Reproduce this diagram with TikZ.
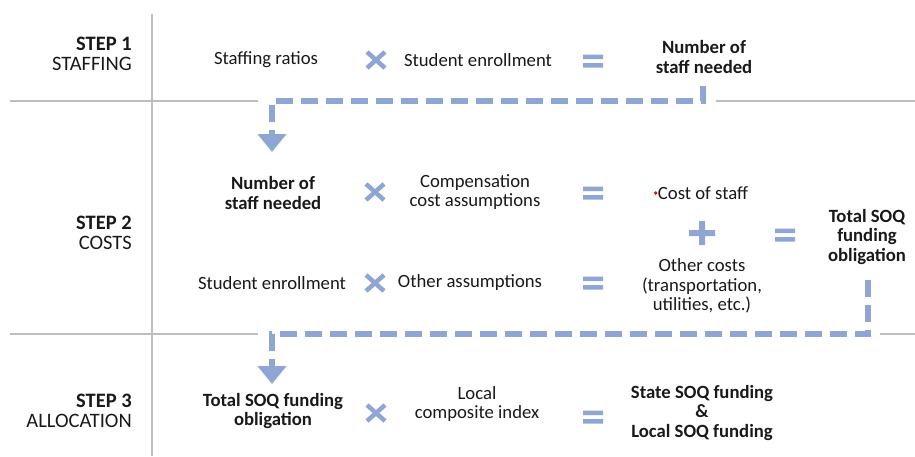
\documentclass[tikz,border=0pt]{standalone}
\usepackage{fontspec}
\setmainfont{Carlito}
\usetikzlibrary{arrows.meta}
\definecolor{flowblue}{RGB}{143,166,212}
\definecolor{rulegray}{RGB}{190,190,190}
\definecolor{ink}{RGB}{25,25,25}
\begin{document}
\begin{tikzpicture}[x=1pt,y=-1pt,
  txt/.style={font=\fontsize{18.7}{19.5}\selectfont, text=ink, align=center, inner sep=0pt},
  bold/.style={txt, font=\fontsize{18.7}{19.5}\selectfont\bfseries},
  steplabel/.style={txt, font=\fontsize{20.5}{19.5}\selectfont, align=right, anchor=east},
  rule/.style={draw=rulegray, line width=1.5pt},
  flow/.style={draw=flowblue, line width=6pt, dash pattern=on 17pt off 8pt,
    -{Triangle[width=28pt,length=18pt]}},
  opTimes/.pic={\draw[flowblue, line width=4.5pt] (-9,-8) -- (9,8) (-9,8) -- (9,-8);},
  opEquals/.pic={\fill[flowblue] (-10,-6.5) rectangle (10,-2) (-10,2) rectangle (10,6.5);},
  opPlus/.pic={\fill[flowblue] (-13,-3) rectangle (13,3) (-3,-12) rectangle (3,12);}
]
\useasboundingbox (0,0) rectangle (915,456);

% grid rules separating the three steps
\draw[rule] (152,14) -- (152,456);
\draw[rule] (10,101) -- (258,101);
\draw[rule] (716,101) -- (915,101);
\draw[rule] (10,334) -- (258,334);
\draw[rule] (880,334) -- (915,334);

% step headings
\node[steplabel] (step1) at (132,54) {\textbf{STEP 1}\\STAFFING};
\node[steplabel] (step2) at (132,233) {\textbf{STEP 2}\\COSTS};
\node[steplabel] (step3) at (132,411) {\textbf{STEP 3}\\ALLOCATION};

% step 1: staffing
\node[txt] (ratios) at (266,60) {Staffing ratios};
\pic at (376,60) {opTimes};
\node[txt] (enroll1) at (478,60) {Student enrollment};
\pic at (593,61) {opEquals};
\node[bold] (staff1) at (704,57) {Number of\\staff needed};

% step 2: costs
\node[bold] (staff2) at (273,193) {Number of\\staff needed};
\pic at (375,192) {opTimes};
\node[txt] (comp) at (475,192) {Compensation\\cost assumptions};
\pic at (593,193) {opEquals};
\node[txt] (coststaff) at (703,193) {Cost of staff};
\fill[red] ([xshift=-2pt]coststaff.west) circle (1.9);
\pic at (702,233) {opPlus};
\pic at (785,235) {opEquals};
\node[bold] (total2) at (867,237) {Total SOQ\\funding\\obligation};
\node[txt] (enroll2) at (272,283) {Student enrollment};
\pic at (375,283) {opTimes};
\node[txt] (other) at (470,283) {Other assumptions};
\pic at (593,283) {opEquals};
\node[txt] (othercosts) at (702,286) {Other costs\\(transportation,\\utilities, etc.)};

% step 3: allocation
\node[bold] (total3) at (273,411) {Total SOQ funding\\obligation};
\pic at (376,413) {opTimes};
\node[txt] (local) at (477,404) {Local\\composite index};
\pic at (593,417) {opEquals};
\node[bold] (result) at (702,413) {State SOQ funding\\\&\\Local SOQ funding};

% dashed hand-offs between the steps
\coordinate (a1) at (703,86);
\coordinate (a2) at (703,101);
\coordinate (a3) at (272,101);
\coordinate (a4) at (272,152);
\draw[flow] (a1) -- (a2) -- (a3) -- (a4);

\coordinate (b1) at (868,280);
\coordinate (b2) at (868,334);
\coordinate (b3) at (272,334);
\coordinate (b4) at (272,384);
\draw[flow] (b1) -- (b2) -- (b3) -- (b4);
\end{tikzpicture}
\end{document}
